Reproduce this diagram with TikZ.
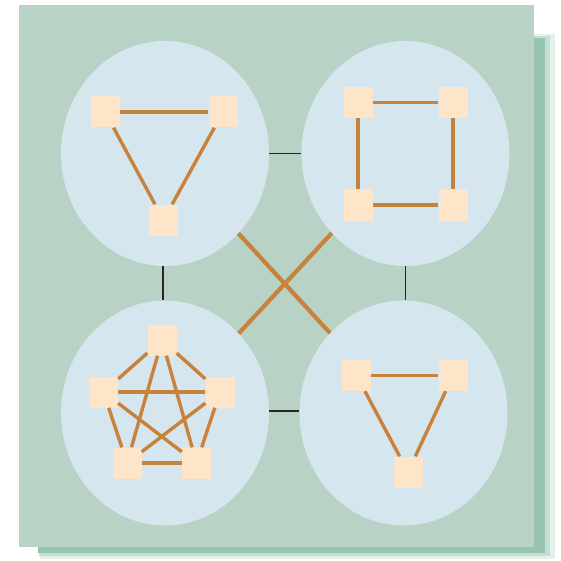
\documentclass[tikz,border=0pt]{standalone}
\usetikzlibrary{shapes.geometric}
\definecolor{bggreen}{HTML}{B8D3C5}
\definecolor{shgreen}{HTML}{97C4AF}
\definecolor{ellblue}{HTML}{D5E6EF}
\definecolor{sqfill}{HTML}{FEE5CA}
\definecolor{edgeor}{HTML}{C8823C}
\tikzset{
  cluster/.style={ellipse, fill=ellblue, inner sep=0pt, minimum width=208pt, minimum height=225pt},
  sq/.style={rectangle, fill=sqfill, inner sep=0pt, minimum width=29pt, minimum height=31pt},
  ed/.style={draw=edgeor, line width=3.4pt},
  cross/.style={draw=edgeor, line width=4.2pt},
  link/.style={draw=black!85, line width=1.3pt}
}
\begin{document}
\begin{tikzpicture}[x=1pt,y=-1pt]
\useasboundingbox (0,0) rectangle (561,561);
% shadow
\fill[shgreen!25] (40,34) rectangle (555,559);
\fill[shgreen!55] (39,36) rectangle (550,556);
\fill[shgreen] (38,38) rectangle (545,553);
\fill[bggreen] (19,5) rectangle (534,547);
% clusters
\node[cluster] (c1) at (165,153.5) {};
\node[cluster] (c2) at (405.5,153.5) {};
\node[cluster] (c3) at (165,413) {};
\node[cluster] (c4) at (403.5,413) {};
\draw[link] (c1.east) -- (c1.east -| c2.west);
\draw[link] ([xshift=-2pt]c1.south) -- ([xshift=-2pt]c1.south |- c3.north);
\draw[link] (c2.south) -- (c2.south |- c4.north);
\draw[link] ([yshift=2pt]c3.east) -- ([yshift=2pt]c3.east -| c4.west);
\draw[cross] (c1) -- (c4);
\draw[cross] (c2) -- (c3);
% TL triangle
\node[sq] (a1) at (105,112) {};
\node[sq] (a2) at (223,112) {};
\node[sq] (a3) at (163.5,220) {};
\draw[ed] (a1) -- (a2);
\draw[ed] (a1) -- (a3);
\draw[ed] (a2) -- (a3);
% TR square
\node[sq] (b1) at (358,102.5) {};
\node[sq] (b2) at (453,102.5) {};
\node[sq] (b3) at (358,205) {};
\node[sq] (b4) at (453,205) {};
\draw[ed] (b1) -- (b2);
\draw[ed] (b2) -- (b4);
\draw[ed] (b4) -- (b3);
\draw[ed] (b3) -- (b1);
% BL pentagon K5
\node[sq] (p1) at (162,340) {};
\node[sq] (p2) at (103.5,392) {};
\node[sq] (p3) at (220,392) {};
\node[sq] (p4) at (127,463) {};
\node[sq] (p5) at (196.5,463) {};
\foreach \u/\v in {p1/p2,p1/p3,p1/p4,p1/p5,p2/p3,p2/p4,p2/p5,p3/p4,p3/p5,p4/p5}
  \draw[ed] (\u) -- (\v);
% BR triangle
\node[sq] (d1) at (356.5,375.5) {};
\node[sq] (d2) at (453,375.5) {};
\node[sq] (d3) at (408,472) {};
\draw[ed] (d1) -- (d2);
\draw[ed] (d1) -- (d3);
\draw[ed] (d2) -- (d3);
\end{tikzpicture}
\end{document}
